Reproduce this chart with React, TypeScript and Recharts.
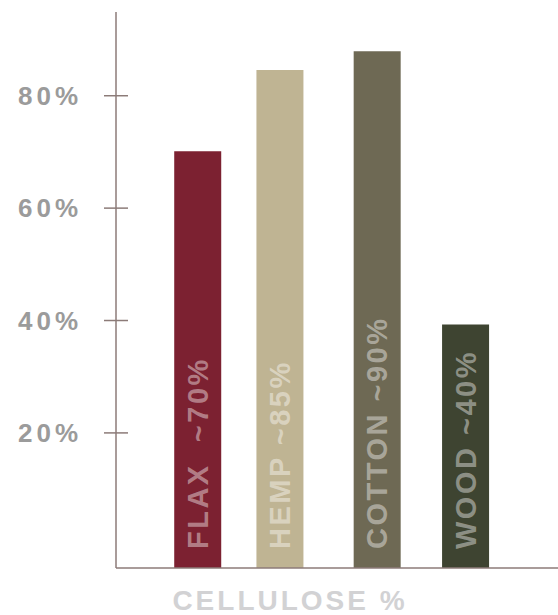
import { BarChart, Bar, XAxis, YAxis, Cell, LabelList } from 'recharts';

const fibres = ['FLAX  ~70%', 'HEMP ~85%', 'COTTON ~90%', 'WOOD ~40%'];
const slots = [0.92, 1.85, 2.95, 3.95];
const cellulose = [70.1, 84.6, 87.9, 39.3];
const colors = ['#7c2131', '#bfb493', '#6e6954', '#3e4431'];
const yTicks = [20, 40, 60, 80];
const yDomain = [-4.04, 94.9];

// bars are drawn from the bottom of the value axis, which sits a little below 0%
const data = fibres.map((name, i) => ({ name, slot: slots[i], value: [yDomain[0], cellulose[i]] }));

const AXIS = '#8c7b78';
const FONT = 'Liberation Sans, Arial, sans-serif';

function YTick(props: any) {
    const { x, y, payload } = props;
    return (
        <g>
            <line x1={x - 12} x2={x + 12} y1={y} y2={y} stroke={AXIS} strokeWidth={1.5} />
            <text x={x - 34} y={y} textAnchor="end" dominantBaseline="central" fill="#9b9b9b"
                style={{ fontSize: 26, fontWeight: 700, letterSpacing: 4, fontFamily: FONT }}>
                {payload.value}%
            </text>
        </g>
    );
}

function BarText(props: any) {
    const { x, y, width, height, value } = props;
    const cx = x + width / 2;
    const by = y + height - 19;
    return (
        <text x={cx} y={by} transform={`rotate(-90 ${cx} ${by})`} textAnchor="start" dominantBaseline="central"
            fill="#ffffff" fillOpacity={0.42}
            style={{ fontSize: 29, fontWeight: 700, letterSpacing: 2.5, whiteSpace: 'pre', fontFamily: FONT }}>
            {value}
        </text>
    );
}

export default function App() {
    return (
        <div style={{ position: 'absolute', left: 0, top: 0, background: '#fff' }}>
            <BarChart width={558} height={615} data={data}
                margin={{ top: 12, right: 0, bottom: 0, left: 0 }}>
                <XAxis type="number" dataKey="slot" domain={[0, 5]} height={47} tick={false} tickLine={false}
                    axisLine={{ stroke: AXIS, strokeWidth: 1.5 }}
                    label={{ value: 'CELLULOSE %', position: 'insideBottom', offset: 5, dx: -47, fill: '#d2d2d4',
                        style: { fontSize: 28, fontWeight: 700, letterSpacing: 3, fontFamily: FONT } }} />
                <YAxis type="number" domain={yDomain} ticks={yTicks} width={116} tickSize={0} tickMargin={0}
                    tickLine={false} axisLine={{ stroke: AXIS, strokeWidth: 1.5 }} tick={<YTick />} interval={0}
                    allowDataOverflow />
                <Bar dataKey="value" barSize={47} isAnimationActive={false}>
                    {data.map((d, i) => <Cell key={d.name} fill={colors[i]} />)}
                    <LabelList dataKey="name" content={<BarText />} />
                </Bar>
            </BarChart>
        </div>
    );
}
